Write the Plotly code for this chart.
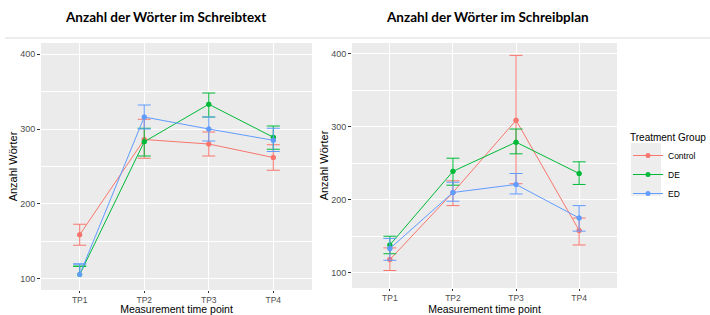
import plotly.graph_objects as go

# ---------------- data ----------------
time_points = ["TP1", "TP2", "TP3", "TP4"]
groups = ["Control", "DE", "ED"]

# Anzahl der Wörter im Schreibtext (left panel)
text_control_mean = [159, 286, 280, 262]
text_control_upper = [173, 313, 296, 279]
text_control_lower = [145, 261, 264, 245]
text_de_mean = [106, 283, 333, 289]
text_de_upper = [117, 301, 348, 304]
text_de_lower = [None, 264, 316, 273]
text_ed_mean = [106, 316, 300, 285]
text_ed_upper = [120, 332, 316, 301]
text_ed_lower = [None, 300, 284, 270]

# Anzahl der Wörter im Schreibplan (right panel)
plan_control_mean = [118, 210, 309, 158]
plan_control_upper = [134, 226, 398, 175]
plan_control_lower = [103, 192, 222, 138]
plan_de_mean = [138, 239, 279, 236]
plan_de_upper = [150, 257, 297, 252]
plan_de_lower = [126, 220, 263, 221]
plan_ed_mean = [133, 210, 221, 175]
plan_ed_upper = [147, 224, 236, 192]
plan_ed_lower = [117, 198, 208, 157]

y_ticks = [100, 200, 300, 400]
titles = ["Anzahl der Wörter im Schreibtext", "Anzahl der Wörter im Schreibplan"]
x_title = "Measurement time point"
y_title = "Anzahl Wörter"
legend_title = "Treatment Group"

colors = {"Control": "#F8766D", "DE": "#00BA38", "ED": "#619CFF"}

panels = [
    {"Control": (text_control_mean, text_control_upper, text_control_lower),
     "DE": (text_de_mean, text_de_upper, text_de_lower),
     "ED": (text_ed_mean, text_ed_upper, text_ed_lower)},
    {"Control": (plan_control_mean, plan_control_upper, plan_control_lower),
     "DE": (plan_de_mean, plan_de_upper, plan_de_lower),
     "ED": (plan_ed_mean, plan_ed_upper, plan_ed_lower)},
]

W, H = 710, 315
fig = go.Figure()

CAP = 6.5
for pi, series in enumerate(panels):
    xa = "x" if pi == 0 else "x2"
    ya = "y" if pi == 0 else "y2"
    for g in groups:
        mean, upper, lower = series[g]
        c = colors[g]
        idx = [i for i in range(4) if lower[i] is not None]
        fig.add_trace(go.Scatter(
            x=[time_points[i] for i in idx], y=[mean[i] for i in idx],
            mode="markers", marker=dict(size=5, color=c),
            error_y=dict(type="data", symmetric=False,
                         array=[upper[i] - mean[i] for i in idx],
                         arrayminus=[mean[i] - lower[i] for i in idx],
                         width=CAP, thickness=1, color=c),
            showlegend=False, hoverinfo="skip", legendgroup=g,
            xaxis=xa, yaxis=ya))
        for i in range(4):
            if lower[i] is None:
                fig.add_trace(go.Scatter(
                    x=[time_points[i], time_points[i]], y=[mean[i], upper[i]],
                    mode="lines", line=dict(color=c, width=1),
                    showlegend=False, hoverinfo="skip", legendgroup=g,
                    xaxis=xa, yaxis=ya))
                fig.add_trace(go.Scatter(
                    x=[time_points[i]], y=[upper[i]],
                    mode="markers", marker=dict(size=1, color=c, opacity=0),
                    error_y=dict(type="constant", value=0, width=CAP,
                                 thickness=1, color=c),
                    showlegend=False, hoverinfo="skip", legendgroup=g,
                    xaxis=xa, yaxis=ya))
        fig.add_trace(go.Scatter(
            x=time_points, y=mean, mode="lines+markers", name=g,
            line=dict(color=c, width=1), marker=dict(size=5, color=c),
            showlegend=(pi == 0), legendgroup=g,
            xaxis=xa, yaxis=ya))

FONT = "Liberation Sans, Arial, sans-serif"
axis_font = dict(family=FONT, size=8.5, color="#4D4D4D")
title_font = dict(family=FONT, size=10.5, color="#000000")

def xaxis(domain, anchor):
    return dict(domain=domain, anchor=anchor, type="category", automargin=False,
                range=[-0.6, 3.6], showgrid=True, gridcolor="#FFFFFF", gridwidth=1,
                ticks="outside", ticklen=2, tickcolor="#333333", tickwidth=1,
                tickfont=axis_font, zeroline=False, showline=False,
                title=dict(text=x_title, font=title_font, standoff=5))

def yaxis(domain, anchor, rng):
    return dict(domain=domain, anchor=anchor, range=rng, automargin=False,
                tickmode="array", tickvals=y_ticks,
                showgrid=True, gridcolor="#FFFFFF", gridwidth=1,
                minor=dict(tickmode="array", tickvals=[150, 250, 350], showgrid=True,
                           gridcolor="#FFFFFF", gridwidth=0.5, ticks=""),
                ticks="outside", ticklen=3, tickcolor="#333333", tickwidth=1,
                tickfont=dict(family=FONT, size=9, color="#4D4D4D"),
                zeroline=False, showline=False,
                title=dict(text=y_title, font=dict(family=FONT, size=11, color="#000000"),
                           standoff=0))

x1d = [41 / W, 312 / W]
x2d = [352 / W, 617 / W]
y1d = [1 - 290 / H, 1 - 43 / H]
y2d = [1 - 288 / H, 1 - 43 / H]

LX = 628
LY = 128
fig.update_layout(
    width=W, height=H,
    margin=dict(l=0, r=0, t=0, b=0),
    paper_bgcolor="#FFFFFF", plot_bgcolor="#EBEBEB",
    xaxis=xaxis(x1d, "y"), yaxis=yaxis(y1d, "x", [85.3, 414.7]),
    xaxis2=xaxis(x2d, "y2"), yaxis2=yaxis(y2d, "x2", [79, 415]),
    legend=dict(title=dict(text=legend_title, font=dict(family=FONT, size=10, color="#000")),
                font=dict(family=FONT, size=8.5, color="#000"),
                x=LX / W, y=1 - LY / H, xanchor="left", yanchor="top",
                bgcolor="rgba(255,255,255,0)", itemwidth=30, tracegroupgap=0),
    showlegend=True,
)

# grey background behind the legend keys
fig.add_shape(type="rect", xref="paper", yref="paper", layer="below",
              x0=(LX + 3) / W, x1=(LX + 33) / W, y0=1 - (LY + 68) / H, y1=1 - (LY + 15) / H,
              fillcolor="#EDEDED", line=dict(width=0))

fig.add_shape(type="line", xref="paper", yref="paper",
              x0=5 / W, x1=1, y0=1 - 38 / H, y1=1 - 38 / H,
              line=dict(color="#DADADA", width=1))

for t, cx in zip(titles, [165.5, 487.5]):
    fig.add_annotation(text="<b>" + t + "</b>", xref="paper", yref="paper",
                       x=cx / W, y=1 - 17 / H, xanchor="center", yanchor="middle",
                       showarrow=False,
                       font=dict(family="Lato, Open Sans, sans-serif", size=13.5, color="#000"))

fig.write_html("out.html", config={"displayModeBar": False},
               post_script="document.body.style.margin='0px';")
